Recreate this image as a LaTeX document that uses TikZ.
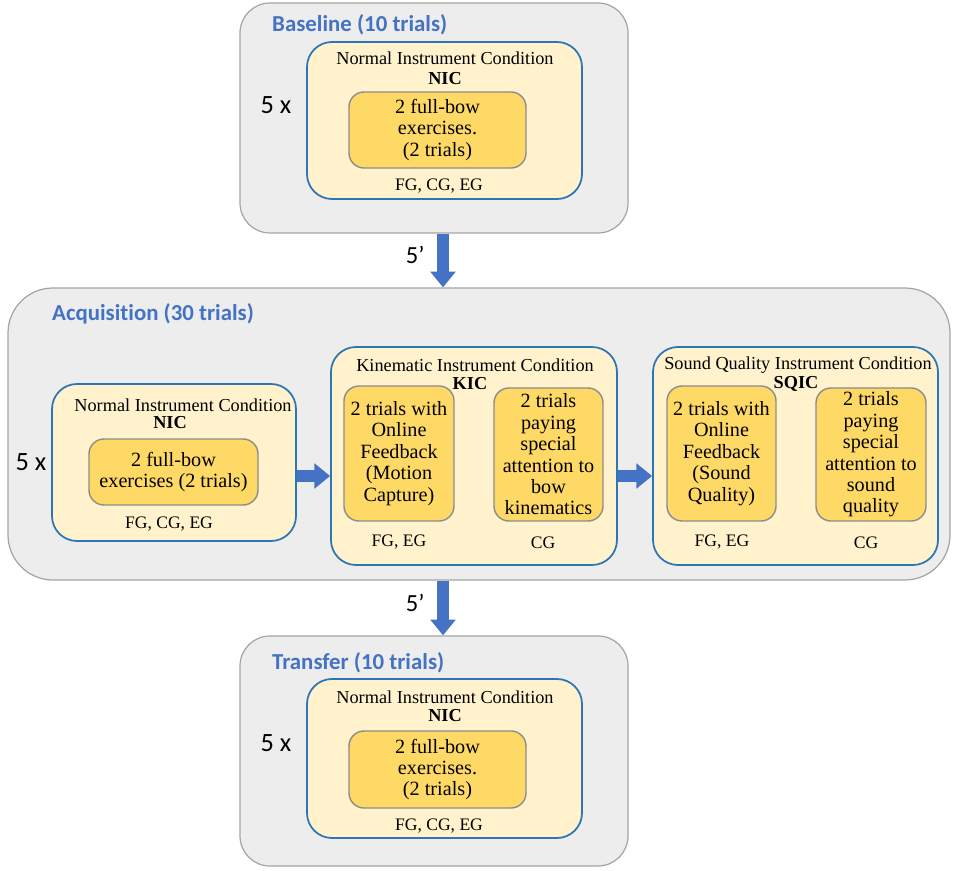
\documentclass[tikz,border=0pt]{standalone}
\usepackage{fontspec}
\setmainfont{Liberation Serif}
\newfontfamily\calibri[Ligatures=NoCommon]{Carlito}
\usepackage{tikz}
\usetikzlibrary{arrows.meta,positioning}
\definecolor{phasefill}{HTML}{EDEDED}
\definecolor{phaseline}{HTML}{A5A5A5}
\definecolor{condfill}{HTML}{FFF2CC}
\definecolor{condline}{HTML}{2E75B6}
\definecolor{trialfill}{HTML}{FFD966}
\definecolor{trialline}{HTML}{8C8C8C}
\definecolor{titleblue}{HTML}{4472C4}
\newcommand{\px}{0.02cm}
\tikzset{%
	phasebox/.style  = {draw=phaseline, fill=phasefill, line width=0.7pt, rounded corners=0.6cm},
	condbox/.style   = {draw=condline, fill=condfill, line width=1pt, rounded corners=0.5cm},
	trialbox/.style  = {draw=trialline, fill=trialfill, line width=0.8pt, rounded corners=0.3cm, align=center, inner sep=1pt, font=\fontsize{11.5}{12.2}\selectfont},
	phasetitle/.style= {anchor=west, text=titleblue, font=\calibri\bfseries\fontsize{13}{15}\selectfont},
	condtitle/.style = {font=\fontsize{10.4}{12}\selectfont, inner sep=1pt},
	condabbr/.style  = {font=\bfseries\fontsize{10.4}{12}\selectfont, inner sep=1pt},
	groups/.style    = {font=\fontsize{10}{12}\selectfont, inner sep=1pt},
	reps/.style      = {font=\calibri\fontsize{15}{18}\selectfont},
	bigarrow/.style  = {draw=titleblue, line width=6.5pt, -{Triangle[width=14pt,length=9pt]}},
}

\begin{document}
\begin{tikzpicture}[x=\px,y=-\px]
	\useasboundingbox (0,0) rectangle (957,871);
	% baseline
	\node[phasebox, minimum width=388*\px, minimum height=230*\px] (base) at (434,118) {};
	\node[phasetitle] (basetitle) at (266,25) {Baseline (10 trials)};
	\node[reps] (basereps) at (276,105) {5 x};
	\node[condbox, minimum width=275*\px, minimum height=157*\px] (basenic) at (444.5,120.5) {};
	\node[condtitle] (basenictxt) at (445,58) {Normal Instrument Condition};
	\node[condabbr] (basenicabbr) at (445,79) {NIC};
	\node[trialbox, minimum width=177*\px, minimum height=76*\px] (baseex) at (437.5,130) {2 full-bow\\exercises.\\(2 trials)};
	\node[groups] (basegrp) at (439,186) {FG, CG, EG};
	
	% acquisition
	\node[phasebox, rounded corners=0.9cm, minimum width=942*\px, minimum height=292*\px] (acq) at (479,434) {};
	\node[phasetitle] (acqtitle) at (46,314) {Acquisition (30 trials)};
	\node[reps] (acqreps) at (31,462) {5 x};
	
	\node[condbox, minimum width=244*\px, minimum height=157*\px] (nic) at (174,462.5) {};
	\node[condtitle] (nictxt) at (183,405) {Normal Instrument Condition};
	\node[condabbr] (nicabbr) at (170,423) {NIC};
	\node[trialbox, minimum width=169*\px, minimum height=66*\px] (nicex) at (173.5,472) {2 full-bow\\exercises (2 trials)};
	\node[groups] (nicgrp) at (169,524) {FG, CG, EG};
	
	\node[condbox, minimum width=286*\px, minimum height=218*\px] (kic) at (474,456) {};
	\node[condtitle] (kictxt) at (475,365) {Kinematic Instrument Condition};
	\node[condabbr] (kicabbr) at (470,384) {KIC};
	\node[trialbox, minimum width=110*\px, minimum height=135*\px] (kicfb) at (399,453.5) {2 trials with\\Online\\Feedback\\(Motion\\Capture)};
	\node[trialbox, minimum width=109*\px, minimum height=133*\px] (kicatt) at (548.5,454.5) {2 trials\\paying\\special\\attention to\\bow\\kinematics};
	\node[groups] (kicgrpa) at (399,542) {FG, EG};
	\node[groups] (kicgrpb) at (543,543) {CG};
	
	\node[condbox, minimum width=285*\px, minimum height=218*\px] (sqic) at (795.5,456) {};
	\node[condtitle] (sqictxt) at (798,365) {Sound Quality Instrument Condition};
	\node[condabbr] (sqicabbr) at (796,384) {SQIC};
	\node[trialbox, minimum width=109*\px, minimum height=135*\px] (sqicfb) at (721.5,453.5) {2 trials with\\Online\\Feedback\\(Sound\\Quality)};
	\node[trialbox, minimum width=110*\px, minimum height=133*\px] (sqicatt) at (871,454.5) {2 trials\\paying\\special\\attention to\\sound\\quality};
	\node[groups] (sqicgrpa) at (722,542) {FG, EG};
	\node[groups] (sqicgrpb) at (866,543) {CG};
	
	% transfer
	\node[phasebox, minimum width=388*\px, minimum height=230*\px] (tra) at (434,751) {};
	\node[phasetitle] (tratitle) at (266,663) {Transfer (10 trials)};
	\node[reps] (trareps) at (276,743) {5 x};
	\node[condbox, minimum width=275*\px, minimum height=159*\px] (tranic) at (444.5,758.5) {};
	\node[condtitle] (tranictxt) at (445,697) {Normal Instrument Condition};
	\node[condabbr] (tranicabbr) at (445,716) {NIC};
	\node[trialbox, minimum width=177*\px, minimum height=77*\px] (traex) at (437.5,769.5) {2 full-bow\\exercises.\\(2 trials)};
	\node[groups] (tragrp) at (439,826) {FG, CG, EG};
	
	% arrows
	\coordinate (arrowcol) at (443,0);
	\coordinate (arrowrow) at (0,476);
	\draw[bigarrow] (base.south -| arrowcol) -- node[pos=0.4, left=4pt, reps, font=\calibri\fontsize{14}{16}\selectfont] (pausea) {5’} (acq.north -| arrowcol);
	\draw[bigarrow] (acq.south -| arrowcol) -- node[pos=0.4, left=4pt, reps, font=\calibri\fontsize{14}{16}\selectfont] (pauseb) {5’} (tra.north -| arrowcol);
	\draw[bigarrow] (nic.east |- arrowrow) -- (kic.west |- arrowrow);
	\draw[bigarrow] (kic.east |- arrowrow) -- (sqic.west |- arrowrow);
\end{tikzpicture}
\end{document}
